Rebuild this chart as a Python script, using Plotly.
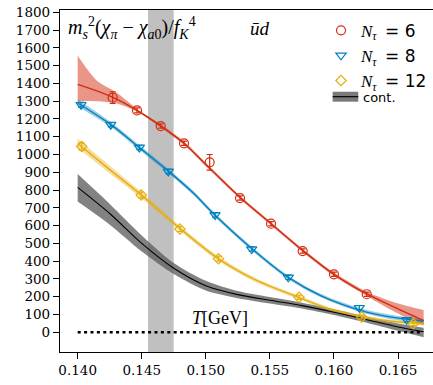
import plotly.graph_objects as go

# ---------------- lattice data: m_s^2 (chi_pi - chi_a0) / f_K^4 ----------------
# N_tau = 6
t6 = [0.14273, 0.14463, 0.14648, 0.14830, 0.15030, 0.15267, 0.15509, 0.15756, 0.16000, 0.16256]
v6 = [1320, 1248, 1160, 1063, 956, 755, 611, 457, 326, 214]
e6 = [33, 14, 12, 12, 44, 12, 12, 12, 12, 12]

# N_tau = 8
t8 = [0.14026, 0.14258, 0.14481, 0.14707, 0.15072, 0.15358, 0.15644, 0.16198, 0.16568]
v8 = [1280, 1168, 1040, 905, 660, 468, 309, 138, 70]
e8 = [14, 12, 12, 12, 12, 12, 12, 12, 10]

# N_tau = 12
t12 = [0.14031, 0.14496, 0.14798, 0.15099, 0.15727, 0.16217, 0.16619]
v12 = [1045, 772, 581, 414, 197, 86, 48]
e12 = [20, 16, 14, 14, 12, 10, 10]

# ---------------- spline fits with error bands ----------------
tf6 = [0.1400, 0.1415, 0.1430, 0.1446, 0.1465, 0.1483, 0.1500, 0.1527, 0.1551, 0.1576, 0.1600, 0.1626, 0.1648, 0.1670]
f6 = [1395, 1358, 1313, 1250, 1160, 1063, 944, 757, 610, 458, 326, 214, 138, 65]
f6_lo = [1300, 1300, 1288, 1242, 1150, 1053, 934, 748, 601, 449, 316, 202, 112, 38]
f6_hi = [1555, 1415, 1350, 1258, 1170, 1073, 954, 766, 619, 467, 336, 226, 166, 125]

tf8 = [0.1400, 0.1426, 0.1448, 0.1471, 0.1490, 0.1507, 0.1536, 0.1564, 0.1590, 0.1620, 0.1645, 0.1670]
f8 = [1290, 1168, 1040, 905, 785, 660, 470, 310, 205, 125, 85, 63]
f8_lo = [1270, 1154, 1027, 893, 773, 649, 459, 300, 195, 114, 73, 50]
f8_hi = [1310, 1182, 1053, 917, 797, 671, 481, 320, 215, 136, 97, 76]

tf12 = [0.1400, 0.1425, 0.1450, 0.1480, 0.1510, 0.1540, 0.1573, 0.1597, 0.1622, 0.1645, 0.1670]
f12 = [1062, 915, 770, 583, 413, 290, 195, 130, 88, 62, 48]
f12_lo = [1036, 893, 752, 568, 400, 279, 185, 121, 79, 53, 38]
f12_hi = [1088, 937, 788, 598, 426, 301, 205, 139, 97, 71, 58]

# continuum extrapolation
tc = [0.1400, 0.1425, 0.1450, 0.1475, 0.1500, 0.1525, 0.1550, 0.1575, 0.1600, 0.1625, 0.1650, 0.1670]
fc = [815, 668, 500, 360, 262, 212, 180, 150, 113, 72, 30, 3]
fc_lo = [735, 605, 455, 328, 235, 192, 162, 134, 97, 55, 8, -28]
fc_hi = [890, 722, 545, 390, 290, 232, 198, 166, 129, 88, 50, 25]

# pseudo-critical temperature window
tpc_lo, tpc_hi = 0.14549, 0.14749

# zero reference line
t_zero = [0.1400, 0.1667]
v_zero = [0, 0]

y_ticks = list(range(0, 1801, 100))
x_ticks = [0.140, 0.145, 0.150, 0.155, 0.160, 0.165]
x_ticktext = ["0.140", "0.145", "0.150", "0.155", "0.160", "0.165"]

RED, BLUE, YELLOW = "#d32d11", "#0081bf", "#e5af11"
SERIF = "DejaVu Serif"
MATH = "Liberation Serif"

fig = go.Figure()


def add_band(t, lo, hi, fillcolor):
    fig.add_trace(go.Scatter(x=t, y=lo, mode="lines", line=dict(width=0, shape="spline", smoothing=0.8),
                             showlegend=False, hoverinfo="skip"))
    fig.add_trace(go.Scatter(x=t, y=hi, mode="lines", line=dict(width=0, shape="spline", smoothing=0.8),
                             fill="tonexty", fillcolor=fillcolor, showlegend=False, hoverinfo="skip"))


def add_line(t, f, color, width):
    fig.add_trace(go.Scatter(x=t, y=f, mode="lines", line=dict(color=color, width=width, shape="spline", smoothing=0.8),
                             showlegend=False, hoverinfo="skip"))


# bands
add_band(tc, fc_lo, fc_hi, "rgba(95,95,95,0.78)")
add_band(tf12, f12_lo, f12_hi, "rgba(229,175,17,0.40)")
add_band(tf8, f8_lo, f8_hi, "rgba(0,129,191,0.40)")
add_band(tf6, f6_lo, f6_hi, "rgba(211,45,17,0.50)")

# central fit lines
add_line(tc, fc, "black", 1.1)
add_line(tf12, f12, YELLOW, 1.4)
add_line(tf8, f8, BLUE, 1.4)
add_line(tf6, f6, RED, 1.4)

# zero line
fig.add_trace(go.Scatter(x=t_zero, y=v_zero, mode="lines", line=dict(color="black", width=2.6, dash="3px,3.4px"),
                         showlegend=False, hoverinfo="skip"))

# lattice points
label_font = "<span style='font-family:DejaVu Sans'>"
for t, v, e, c, sym, nt in [(t6, v6, e6, RED, "circle-open", 6),
                            (t8, v8, e8, BLUE, "triangle-down-open", 8),
                            (t12, v12, e12, YELLOW, "diamond-open", 12)]:
    fig.add_trace(go.Scatter(
        x=t, y=v, mode="markers",
        marker=dict(symbol=sym, size=9 if sym != "diamond-open" else 8, color=c, line=dict(width=1.2, color=c)),
        error_y=dict(type="data", array=e, visible=True, color=c, thickness=1.2, width=3),
        name=f"<i>N</i><sub><i>τ</i></sub>  {label_font}= {nt}</span>",
        legendgroup=f"nt{nt}",
    ))

fig.add_shape(type="rect", xref="x", yref="paper", x0=tpc_lo, x1=tpc_hi, y0=0, y1=1,
              fillcolor="#c0c0c0", line=dict(width=0), layer="below")

# continuum legend entry
fig.add_shape(type="rect", xref="paper", yref="paper", x0=0.731, x1=0.7997, y0=0.7319, y1=0.761,
              fillcolor="#7a7a7a", line=dict(width=0))
fig.add_shape(type="line", xref="paper", yref="paper", x0=0.731, x1=0.7997, y0=0.7465, y1=0.7465,
              line=dict(color="black", width=1.2))
fig.add_annotation(xref="paper", yref="paper", x=0.806, y=0.7427, xanchor="left", yanchor="middle",
                   text="cont.", showarrow=False, font=dict(family="DejaVu Sans", size=13, color="black"))

fig.add_annotation(xref="paper", yref="paper", x=0.016, y=0.948, xanchor="left", yanchor="middle",
                   text="<i>m</i><sub><i>s</i></sub><sup>2</sup>(<i>χ</i><sub><i>π</i></sub> − <i>χ</i><sub><i>a</i>0</sub>)/<i>f</i><sub><i>K</i></sub><sup>4</sup>",
                   showarrow=False, font=dict(family=MATH, size=20, color="black"))
fig.add_annotation(xref="paper", yref="paper", x=0.5375, y=0.947, xanchor="center", yanchor="middle",
                   text="<i>ūd</i>", showarrow=False, font=dict(family=MATH, size=19, color="black"))
fig.add_annotation(xref="paper", yref="paper", x=0.429, y=0.0985, xanchor="center", yanchor="middle",
                   text="<i>T</i>[GeV]", showarrow=False, font=dict(family=MATH, size=18, color="black"))

axis_common = dict(showline=True, linecolor="black", linewidth=1.2, mirror=True, ticks="outside",
                   ticklen=6, tickwidth=1.2, tickcolor="black", showgrid=False, zeroline=False,
                   tickfont=dict(family=SERIF, size=13.5, color="black"))

fig.update_layout(
    width=433, height=385,
    margin=dict(l=60, r=0, t=10, b=33),
    paper_bgcolor="white", plot_bgcolor="white",
    showlegend=True,
    legend=dict(x=0.70, y=0.992, xanchor="left", yanchor="top", bgcolor="rgba(0,0,0,0)",
                font=dict(family=MATH, size=17, color="black"), tracegroupgap=0, traceorder="grouped"),
    xaxis=dict(range=[0.13862, 0.16773], tickvals=x_ticks, ticktext=x_ticktext, **axis_common),
    yaxis=dict(range=[-111, 1813], tickvals=y_ticks, **axis_common),
)

fig.write_html("out.html")
